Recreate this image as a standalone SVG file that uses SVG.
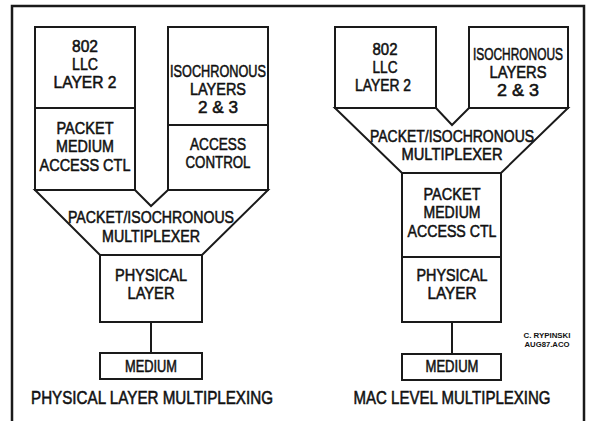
<svg xmlns="http://www.w3.org/2000/svg" width="589" height="421" viewBox="0 0 589 421">
<style>
.bg{fill:#fff}
.frame{fill:none;stroke:#1a1a1a;stroke-width:2.5}
.box{fill:none;stroke:#1a1a1a;stroke-width:2}
.conn{fill:none;stroke:#1a1a1a;stroke-width:2}
text{font-family:"Liberation Sans Narrow","Liberation Sans",Arial,sans-serif;font-size:17px;fill:#111;stroke:#111;stroke-width:0.55;text-anchor:middle}
.cap{font-size:18px}
.sig{font-size:7px;font-weight:bold;stroke:none}
</style>
<rect class="bg" x="0" y="0" width="589" height="421"/>
<path class="frame" d="M12,421 V6 H584 V421"/>

<!-- Left diagram: physical layer multiplexing -->
<g id="llc-left">
<rect class="box" x="35" y="27" width="100" height="81"/>
<text x="85" y="52" textLength="26" lengthAdjust="spacingAndGlyphs">802</text>
<text x="85" y="70" textLength="26" lengthAdjust="spacingAndGlyphs">LLC</text>
<text x="85" y="88" textLength="63" lengthAdjust="spacingAndGlyphs">LAYER 2</text>
</g>
<g id="pmac-left">
<rect class="box" x="35" y="108" width="100" height="82"/>
<text x="85" y="134" textLength="57" lengthAdjust="spacingAndGlyphs">PACKET</text>
<text x="85" y="152" textLength="58" lengthAdjust="spacingAndGlyphs">MEDIUM</text>
<text x="85" y="171" textLength="91" lengthAdjust="spacingAndGlyphs">ACCESS CTL</text>
</g>
<g id="iso-left">
<rect class="box" x="168" y="27" width="100" height="98"/>
<text x="218" y="77" textLength="96" lengthAdjust="spacingAndGlyphs">ISOCHRONOUS</text>
<text x="218" y="95" textLength="56" lengthAdjust="spacingAndGlyphs">LAYERS</text>
<text x="218" y="113" textLength="40" lengthAdjust="spacingAndGlyphs">2 &amp; 3</text>
</g>
<g id="access-left">
<rect class="box" x="168" y="125" width="100" height="65"/>
<text x="218" y="150" textLength="56" lengthAdjust="spacingAndGlyphs">ACCESS</text>
<text x="218" y="168" textLength="65" lengthAdjust="spacingAndGlyphs">CONTROL</text>
</g>
<g id="mux-left">
<polygon class="box" points="35,190 135,190 151,206 168,190 268,190 202,255 100,255"/>
<text x="151" y="223" textLength="166" lengthAdjust="spacingAndGlyphs">PACKET/ISOCHRONOUS</text>
<text x="151" y="242" textLength="98" lengthAdjust="spacingAndGlyphs">MULTIPLEXER</text>
</g>
<g id="phy-left">
<rect class="box" x="100" y="255" width="102" height="67"/>
<text x="151" y="281" textLength="72" lengthAdjust="spacingAndGlyphs">PHYSICAL</text>
<text x="151" y="299" textLength="47" lengthAdjust="spacingAndGlyphs">LAYER</text>
</g>
<g id="medium-left">
<rect class="box" x="100" y="353" width="102" height="26"/>
<text x="151" y="372" textLength="52" lengthAdjust="spacingAndGlyphs">MEDIUM</text>
</g>
<text id="caption-left" class="cap" x="152" y="404" textLength="242" lengthAdjust="spacingAndGlyphs">PHYSICAL LAYER MULTIPLEXING</text>

<!-- Right diagram: MAC level multiplexing -->
<g id="llc-right">
<rect class="box" x="335" y="27" width="101" height="81"/>
<text x="385" y="55" textLength="25" lengthAdjust="spacingAndGlyphs">802</text>
<text x="385" y="73" textLength="25" lengthAdjust="spacingAndGlyphs">LLC</text>
<text x="383" y="91" textLength="56" lengthAdjust="spacingAndGlyphs">LAYER 2</text>
</g>
<g id="iso-right">
<rect class="box" x="469" y="27" width="99" height="81"/>
<text x="518" y="60" textLength="90" lengthAdjust="spacingAndGlyphs">ISOCHRONOUS</text>
<text x="518" y="78" textLength="57" lengthAdjust="spacingAndGlyphs">LAYERS</text>
<text x="518" y="96" textLength="42" lengthAdjust="spacingAndGlyphs">2 &amp; 3</text>
</g>
<g id="mux-right">
<polygon class="box" points="335,108 436,108 452,125 469,108 568,108 501,173 402,173"/>
<text x="452" y="142" textLength="164" lengthAdjust="spacingAndGlyphs">PACKET/ISOCHRONOUS</text>
<text x="452" y="160" textLength="101" lengthAdjust="spacingAndGlyphs">MULTIPLEXER</text>
</g>
<g id="pmac-right">
<rect class="box" x="402" y="173" width="99" height="84"/>
<text x="452" y="200" textLength="57" lengthAdjust="spacingAndGlyphs">PACKET</text>
<text x="452" y="218" textLength="57" lengthAdjust="spacingAndGlyphs">MEDIUM</text>
<text x="452" y="237" textLength="89" lengthAdjust="spacingAndGlyphs">ACCESS CTL</text>
</g>
<g id="phy-right">
<rect class="box" x="402" y="257" width="99" height="65"/>
<text x="452" y="281" textLength="71" lengthAdjust="spacingAndGlyphs">PHYSICAL</text>
<text x="452" y="299" textLength="49" lengthAdjust="spacingAndGlyphs">LAYER</text>
</g>
<g id="medium-right">
<rect class="box" x="402" y="354" width="99" height="26"/>
<text x="452" y="372" textLength="53" lengthAdjust="spacingAndGlyphs">MEDIUM</text>
</g>
<text id="caption-right" class="cap" x="452" y="404" textLength="197" lengthAdjust="spacingAndGlyphs">MAC LEVEL MULTIPLEXING</text>

<g id="signature">
<text class="sig" x="547" y="338" textLength="47" lengthAdjust="spacingAndGlyphs">C. RYPINSKI</text>
<text class="sig" x="547" y="347" textLength="45" lengthAdjust="spacingAndGlyphs">AUG87.ACO</text>
</g>

<g id="connectors">
<line class="conn" x1="151" y1="322" x2="151" y2="353"/>
<line class="conn" x1="452" y1="322" x2="452" y2="354"/>
</g>
</svg>
